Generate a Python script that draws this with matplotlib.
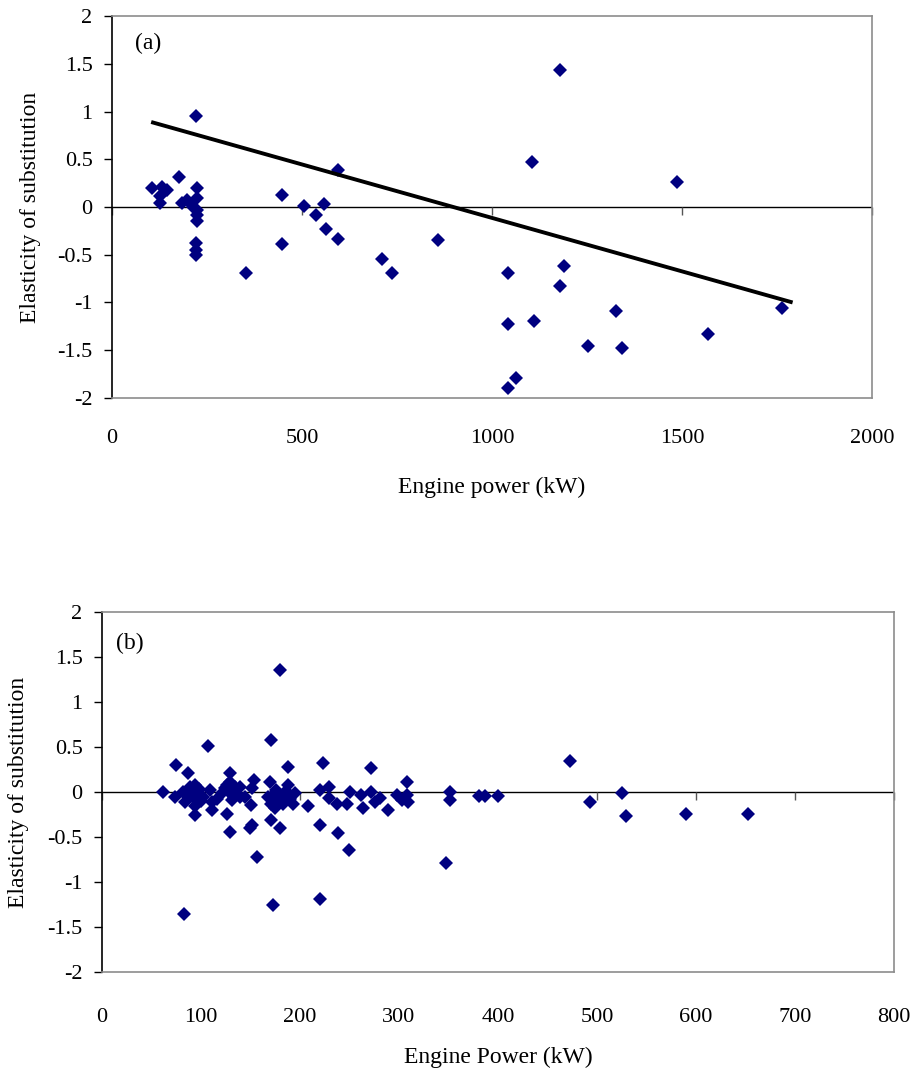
import numpy as np
import matplotlib
matplotlib.use('Agg')
import matplotlib.pyplot as plt

plt.rcParams['font.family'] = ['Liberation Serif', 'DejaVu Serif']

# (a) 엔진 출력과 대체탄력성
power_a = [104, 131, 144, 126, 126, 175, 183, 196, 220, 223, 223, 214, 223, 223, 223,
           220, 220, 220, 352, 447, 447, 504, 537, 558, 563, 594, 594, 710, 736, 857,
           1041, 1041, 1041, 1063, 1104, 1110, 1178, 1178, 1189, 1252, 1325, 1341,
           1488, 1568, 1763]
elast_a = [0.20, 0.21, 0.18, 0.11, 0.04, 0.31, 0.04, 0.07, 0.95, 0.20, 0.09, 0.0, -0.03,
           -0.08, -0.15, -0.38, -0.45, -0.50, -0.69, 0.13, -0.39, 0.01, -0.08, 0.03, -0.23,
           0.39, -0.33, -0.54, -0.69, -0.35, -0.69, -1.23, -1.90, -1.79, 0.47, -1.19,
           1.43, -0.83, -0.62, -1.46, -1.09, -1.48, 0.26, -1.33, -1.06]
trend_x = [103, 1791]
trend_y = [0.89, -1.00]

# (b)
power_b = [62, 75, 74, 83, 87, 82, 84, 89, 94, 96, 94, 94, 102, 107, 109, 111, 111, 121,
           126, 129, 129, 128, 133, 134, 129, 139, 139, 144, 150, 151, 153, 151, 149, 157,
           170, 171, 173, 171, 171, 173, 180, 180, 183, 180, 188, 188, 195, 193, 208, 220,
           223, 229, 229, 220, 220, 237, 238, 247, 249, 250, 262, 264, 272, 272, 276, 281,
           289, 298, 303, 308, 308, 309, 347, 351, 351, 381, 387, 400, 473, 493, 525, 529,
           590, 652,
           124, 131, 136, 126, 116, 176, 184, 177, 186, 168, 175, 190, 92, 98, 86, 100]
elast_b = [0.00, 0.30, -0.05, -1.35, 0.21, 0.0, -0.11, 0.06, 0.08, -0.01, -0.16, -0.26,
           -0.05, 0.51, 0.02, -0.11, -0.20, -0.01, -0.24, 0.21, 0.11, 0.0, -0.05, 0.06,
           -0.44, 0.06, -0.05, -0.05, -0.14, 0.04, 0.13, -0.37, -0.40, -0.72, 0.11, 0.58,
           -0.03, -0.13, -0.31, -1.26, 1.36, -0.05, -0.13, -0.40, 0.28, 0.08, -0.01, -0.13,
           -0.15, 0.02, 0.32, 0.06, -0.07, -0.37, -1.19, -0.13, -0.46, -0.13, -0.64, 0.0,
           -0.03, -0.18, 0.27, 0.0, -0.11, -0.07, -0.20, -0.03, -0.09, 0.11, -0.03, -0.11,
           -0.79, 0.0, -0.09, -0.04, -0.04, -0.04, 0.34, -0.11, -0.01, -0.27, -0.24, -0.24,
           0.04, -0.09, -0.02, 0.08, -0.08, 0.02, -0.08, -0.10, 0.01, -0.06, -0.18, -0.08,
           -0.06, 0.03, -0.03, -0.10]

yticks = [2, 1.5, 1, 0.5, 0, -0.5, -1, -1.5, -2]
ytick_labels = ['2', '1.5', '1', '0.5', '0', '-0.5', '-1', '-1.5', '-2']
xticks_a = [0, 500, 1000, 1500, 2000]
xticks_b = [0, 100, 200, 300, 400, 500, 600, 700, 800]

NAVY = '#000080'
fig = plt.figure(figsize=(9.16, 10.75), dpi=100)
ax_a = fig.add_axes([0.1223, 0.6298, 0.8297, 0.3553])
ax_b = fig.add_axes([0.1114, 0.0958, 0.8646, 0.3349])


def style_axes(ax, xticks, xlabel, tag, tag_pos, xpad, xlabelpad, ylabelpad):
    ax.set_ylim(-2, 2)
    ax.set_xlim(xticks[0], xticks[-1])
    ax.set_yticks(yticks)
    ax.set_yticklabels(ytick_labels)
    ax.set_xticks(xticks)
    ax.set_xticklabels([str(t) for t in xticks])
    ax.tick_params(axis='x', length=0, pad=xpad, labelsize=16)
    ax.tick_params(axis='y', direction='out', length=6, width=1, pad=8, labelsize=16)
    for s in ['top', 'right', 'bottom']:
        ax.spines[s].set_color('#8c8c8c')
        ax.spines[s].set_linewidth(1.2)
    ax.spines['left'].set_color('black')
    ax.spines['left'].set_linewidth(1.2)
    # 0 위치의 가로축과 눈금
    ax.axhline(0, color='black', lw=1, zorder=1)
    ax.plot(xticks, np.zeros(len(xticks)), linestyle='none', marker=3,
            markersize=6, color='#555555', markeredgewidth=1, clip_on=False, zorder=1)
    ax.set_ylabel('Elasticity of substitution', fontsize=17, labelpad=ylabelpad)
    ax.set_xlabel(xlabel, fontsize=17, labelpad=xlabelpad)
    ax.text(tag_pos[0], tag_pos[1], tag, transform=ax.transAxes, fontsize=17,
            ha='center', va='center')


style_axes(ax_a, xticks_a, 'Engine power (kW)', '(a)', (0.047, 0.927), 22, 21, 12)
ax_a.plot(power_a, elast_a, linestyle='none', marker='D', markersize=7.5,
          color=NAVY, markeredgewidth=0, zorder=3)
ax_a.plot(trend_x, trend_y, color='black', lw=2.8, zorder=4, solid_capstyle='butt')

style_axes(ax_b, xticks_b, 'Engine Power (kW)', '(b)', (0.035, 0.914), 26, 14, 13)
ax_b.plot(power_b, elast_b, linestyle='none', marker='D', markersize=7.5,
          color=NAVY, markeredgewidth=0, zorder=3)

fig.savefig('out.png', dpi=100)
